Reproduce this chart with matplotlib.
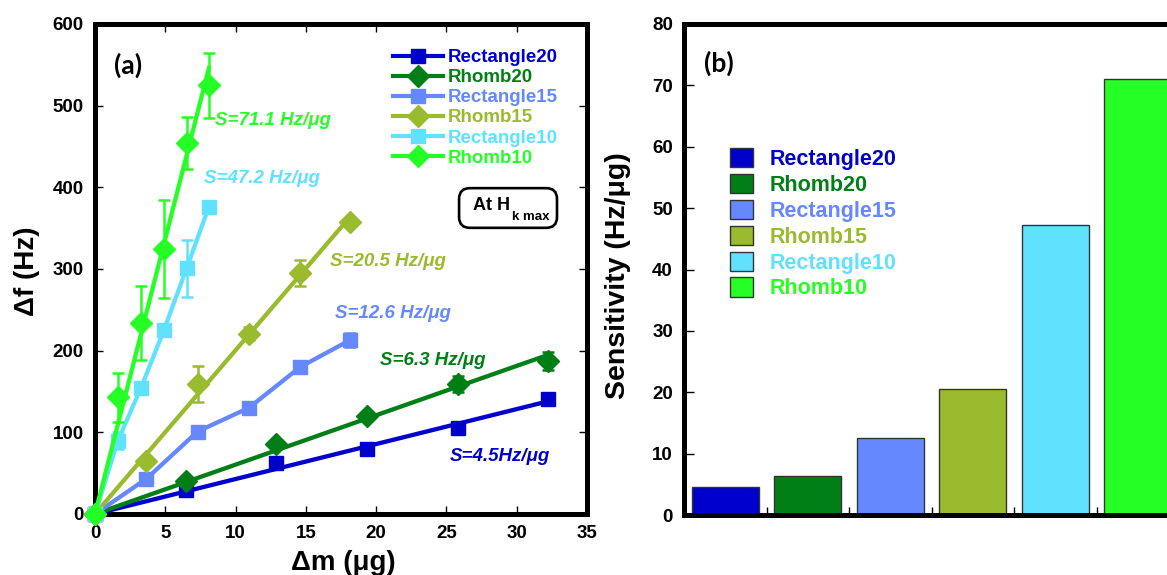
import numpy as np
import matplotlib
matplotlib.use("Agg")
import matplotlib.pyplot as plt
from matplotlib.lines import Line2D
from matplotlib.patches import Patch, FancyBboxPatch

plt.rcParams['font.family'] = ['Liberation Sans', 'DejaVu Sans']
plt.rcParams['font.weight'] = 'bold'

# ---- data ----
names = ['Rectangle20', 'Rhomb20', 'Rectangle15', 'Rhomb15', 'Rectangle10', 'Rhomb10']
colors = ['#0000CC', '#007F16', '#6688FF', '#9ABB2E', '#60E2FF', '#26FF26']
markers = ['s', 'D', 's', 'D', 's', 'D']
sensitivity = [4.5, 6.3, 12.6, 20.5, 47.2, 71.1]
sens_labels = ['S=4.5Hz/\u03bcg', 'S=6.3 Hz/\u03bcg', 'S=12.6 Hz/\u03bcg',
               'S=20.5 Hz/\u03bcg', 'S=47.2 Hz/\u03bcg', 'S=71.1 Hz/\u03bcg']

mass_20 = [0, 6.45, 12.9, 19.35, 25.8, 32.2]
mass_15 = [0, 3.65, 7.3, 10.95, 14.6, 18.15]
mass_10 = [0, 1.63, 3.26, 4.9, 6.52, 8.1]

df_rect20 = [0, 29, 62, 80, 105, 141]
df_rhomb20 = [0, 40, 86, 120, 159, 187]
df_rect15 = [0, 43, 101, 130, 180, 213]
df_rhomb15 = [0, 65, 159, 221, 295, 358]
df_rect10 = [0, 90, 154, 225, 301, 376]
df_rhomb10 = [0, 143, 234, 325, 454, 525]

err_rect20 = [0, 0, 0, 0, 0, 0]
err_rhomb20 = [0, 0, 0, 5, 10, 11]
err_rect15 = [0, 0, 0, 0, 0, 9]
err_rhomb15 = [0, 0, 22, 8, 16, 0]
err_rect10 = [0, 10, 0, 0, 35, 6]
err_rhomb10 = [0, 30, 45, 60, 32, 40]

series_mass = [mass_20, mass_20, mass_15, mass_15, mass_10, mass_10]
series_df = [df_rect20, df_rhomb20, df_rect15, df_rhomb15, df_rect10, df_rhomb10]
series_err = [err_rect20, err_rhomb20, err_rect15, err_rhomb15, err_rect10, err_rhomb10]
# straight least-squares line through the origin, or point-to-point line
fit_line = [True, True, False, True, False, True]

# label anchor positions (data units, left edge / vertical centre)
label_x = [25.25, 20.3, 17.05, 16.7, 7.75, 8.55]
label_y = [71, 188, 246, 309, 411, 482]

W, H = 1167, 575
fig = plt.figure(figsize=(W / 100, H / 100), dpi=100)


def px_axes(l, t, r, b):
    return fig.add_axes([l / W, 1 - b / H, (r - l) / W, (b - t) / H])


spine_w = 3.6
ms_square, ms_diamond = 10.5, 11

# ---------------- panel (a) ----------------
ax1 = px_axes(95, 24, 587, 514)
for i in range(6):
    x = np.array(series_mass[i])
    y = np.array(series_df[i])
    if fit_line[i]:
        slope = np.sum(x * y) / np.sum(x * x)
        xl = np.array([0, x[-1]])
        ax1.plot(xl, slope * xl, color=colors[i], lw=3.1, zorder=3 + i)
    else:
        ax1.plot(x, y, color=colors[i], lw=3.1, zorder=3 + i)
    ax1.plot(x, y, ls='none', marker=markers[i], color=colors[i],
             ms=ms_square if markers[i] == 's' else ms_diamond,
             zorder=3 + i, clip_on=False)
    e = np.array(series_err[i])
    m = e > 0
    ax1.errorbar(x[m], y[m], yerr=e[m], fmt='none', ecolor=colors[i],
                 elinewidth=1.8, capsize=4, capthick=1.8, zorder=3 + i)
    ax1.text(label_x[i], label_y[i], sens_labels[i], color=colors[i],
             fontsize=13.5, fontstyle='italic', fontweight='bold',
             ha='left', va='center')

ax1.set_xlim(0, 35)
ax1.set_ylim(0, 600)
ax1.set_xticks(np.arange(0, 36, 5))
ax1.set_yticks(np.arange(0, 601, 100))
ax1.tick_params(direction='in', length=6, width=1, top=True, right=True,
                labelsize=13.5, pad=8)
for lbl in ax1.get_xticklabels() + ax1.get_yticklabels():
    lbl.set_fontweight('bold')
for s in ax1.spines.values():
    s.set_linewidth(spine_w)
    s.set_zorder(2.5)

fig.text(27.5 / W, 1 - 271 / H, '\u0394f (Hz)', rotation=90, fontsize=20,
         fontweight='bold', ha='center', va='center')
fig.text(343 / W, 1 - 563 / H, '\u0394m (\u03bcg)', fontsize=20,
         fontweight='bold', ha='center', va='center')
fig.text(114 / W, 1 - 65 / H, '(a)', fontsize=19, fontweight='bold',
         family=['Lato', 'DejaVu Sans'], ha='left', va='center')

handles1 = [Line2D([], [], color=c, lw=3, marker=mk,
                   ms=ms_square if mk == 's' else ms_diamond)
            for c, mk in zip(colors, markers)]
leg1 = ax1.legend(handles1, names, loc='upper left',
                  bbox_to_anchor=(393 / W, 1 - 49 / H),
                  bbox_transform=fig.transFigure, frameon=False,
                  handlelength=2.65, handletextpad=0.28,
                  labelspacing=0.16, borderpad=0, borderaxespad=0,
                  labelcolor='linecolor', prop={'weight': 'bold', 'size': 13.5})

box = FancyBboxPatch((0.740, 0.584), 0.199, 0.081,
                     boxstyle='round,pad=0,rounding_size=0.022',
                     transform=ax1.transAxes, fc='white', ec='black', lw=1.9,
                     zorder=20)
ax1.add_patch(box)
ax1.text(0.768, 0.620, 'At H', transform=ax1.transAxes, fontsize=13,
         fontweight='bold', ha='left', va='baseline', zorder=21)
ax1.text(0.848, 0.607, 'k max', transform=ax1.transAxes, fontsize=9.5,
         fontweight='bold', ha='left', va='center', zorder=21)

# ---------------- panel (b) ----------------
ax2 = px_axes(684, 24, 1179, 515)
pos = np.arange(1, 7)
ax2.bar(pos, sensitivity, width=0.81, color=colors, edgecolor='#333333',
        linewidth=1.0, zorder=2)
ax2.set_xlim(0.5, 6.5)
ax2.set_ylim(0, 80)
ax2.set_yticks(np.arange(0, 81, 10))
ax2.set_xticks(np.arange(1.5, 6.0, 1.0))
ax2.set_xticklabels([])
ax2.tick_params(axis='x', direction='in', length=6, width=1)
ax2.tick_params(axis='y', direction='in', length=7, width=1, labelsize=13.5,
                pad=8)
for lbl in ax2.get_yticklabels():
    lbl.set_fontweight('bold')
for s in ax2.spines.values():
    s.set_linewidth(spine_w)

fig.text(618 / W, 1 - 276 / H, 'Sensitivity (Hz/\u03bcg)', rotation=90,
         fontsize=20.5, fontweight='bold', ha='center', va='center')
fig.text(704 / W, 1 - 63.5 / H, '(b)', fontsize=19, fontweight='bold',
         family=['Lato', 'DejaVu Sans'], ha='left', va='center')

handles2 = [Patch(facecolor=c, edgecolor='#333333', lw=1.0) for c in colors]
leg2 = ax2.legend(handles2, names, loc='upper left',
                  bbox_to_anchor=(730 / W, 1 - 148 / H),
                  bbox_transform=fig.transFigure, frameon=False,
                  handlelength=1.07, handleheight=1.0, handletextpad=0.75,
                  labelspacing=0.18, borderpad=0, borderaxespad=0,
                  prop={'weight': 'bold', 'size': 15.5})
for t, c in zip(leg2.get_texts(), colors):
    t.set_color(c)

fig.savefig('out.png', dpi=100)
